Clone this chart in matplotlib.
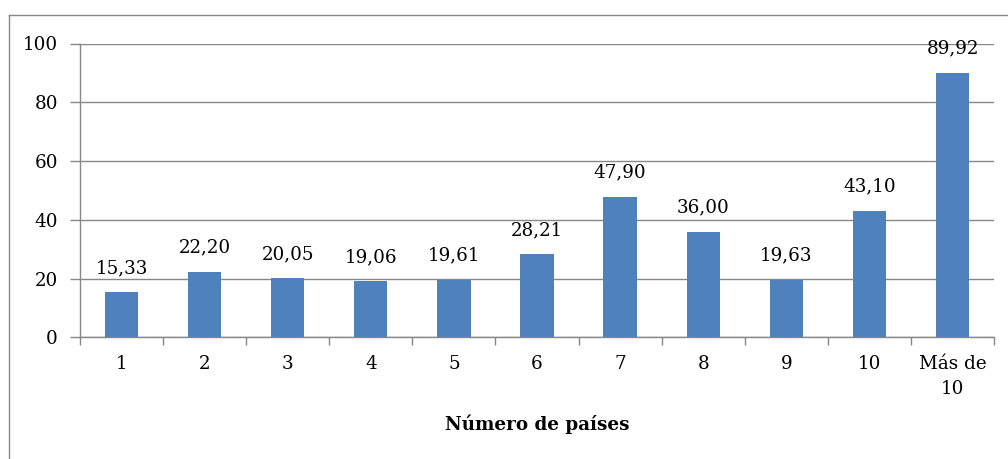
import matplotlib
matplotlib.use("Agg")
import matplotlib.pyplot as plt
from matplotlib.lines import Line2D

categories = ["1", "2", "3", "4", "5", "6", "7", "8", "9", "10", "Más de\n10"]
values = [15.33, 22.20, 20.05, 19.06, 19.61, 28.21, 47.90, 36.00, 19.63, 43.10, 89.92]
yticks = [0, 20, 40, 60, 80, 100]
xlabel = "Número de países"

plt.rcParams['font.family'] = ['DejaVu Serif']
fs = 13.2
gray = "#878787"
blue = "#4F81BD"

fig = plt.figure(figsize=(10.08, 4.59), dpi=100)
ax = fig.add_axes([80/1008, 1-337.3/459, (994-80)/1008, (337.3-43.5)/459])

x = list(range(len(categories)))
ax.bar(x, values, width=0.4, color=blue, zorder=3)
for xi, v in zip(x, values):
    ax.annotate(f"{v:.2f}".replace(".", ","), (xi, v), xytext=(0, 11), textcoords="offset points",
                ha="center", va="bottom", fontsize=fs, color="black", zorder=4)

ax.set_xlim(-0.5, len(categories) - 0.5)
ax.set_ylim(0, 100)
ax.set_yticks(yticks)
ax.set_yticklabels([str(t) for t in yticks], fontsize=fs)
ax.set_xticks([i + 0.5 for i in range(-1, len(categories))], minor=False)
ax.set_xticklabels([])
ax.set_xticks(x, minor=True)
ax.set_xticklabels(categories, minor=True, fontsize=fs, linespacing=1.45)
ax.tick_params(axis="x", which="major", length=6, width=1, color=gray, direction="out")
ax.tick_params(axis="x", which="minor", length=0, pad=13)
ax.tick_params(axis="y", length=7, width=1, color=gray, pad=9)
ax.yaxis.grid(True, color=gray, linewidth=1)
ax.set_axisbelow(True)
for s in ["top", "right"]:
    ax.spines[s].set_visible(False)
for s in ["left", "bottom"]:
    ax.spines[s].set_color(gray)
    ax.spines[s].set_linewidth(1)
ax.set_xlabel(xlabel, fontsize=fs, fontweight="bold", labelpad=12)

# outer border
fig.add_artist(Line2D([8.5/1008, 8.5/1008], [0, 1-14.5/459], transform=fig.transFigure, color=gray, lw=1))
fig.add_artist(Line2D([8.5/1008, 1], [1-14.5/459, 1-14.5/459], transform=fig.transFigure, color=gray, lw=1))

fig.savefig("out.png", dpi=100)
